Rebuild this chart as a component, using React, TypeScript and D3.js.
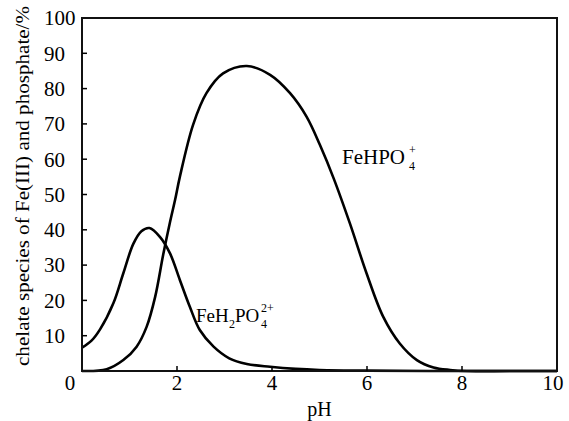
import React from "react";
import * as d3 from "d3";

// FeH2PO4(2+) species curve
const ph1 = [0, 0.2, 0.38, 0.66, 0.87, 1.08, 1.25, 1.42, 1.64, 1.85, 2.06, 2.27, 2.48, 2.77, 3.1, 3.47, 3.96, 4.5, 5, 6, 8, 10];
const val1 = [6.6, 8.6, 11.8, 19.2, 27.7, 36.0, 39.6, 40.5, 38, 33.4, 25.8, 18.2, 11.6, 6.9, 3.6, 2.0, 1.2, 0.6, 0.3, 0.1, 0, 0];

// FeHPO4(+) species curve
const ph2 = [0, 0.52, 0.87, 1.15, 1.36, 1.54, 1.71, 1.85, 1.96, 2.06, 2.34, 2.62, 2.97, 3.47, 3.96, 4.38, 4.73, 5.01, 5.3, 5.64, 5.99, 6.34, 6.69, 7.05, 7.4, 7.75, 8.1, 9, 10];
const val2 = [0, 0.5, 3.1, 6.9, 12.5, 21, 33, 42, 48.5, 55, 69.8, 78.7, 84.3, 86.4, 83.9, 78.7, 72, 64, 54.5, 41.8, 27.7, 15.4, 7.8, 3.1, 1.0, 0.3, 0, 0, 0];

const xTicks = [2, 4, 6, 8, 10];
const yTicks = [10, 20, 30, 40, 50, 60, 70, 80, 90, 100];

const W = 569;
const H = 421;
const margin = { top: 18, right: 12, bottom: 50, left: 82 };
const font = "'Liberation Serif', 'Times New Roman', serif";

export default function App() {
  const x = d3.scaleLinear().domain([0, 10]).range([margin.left, W - margin.right]);
  const y = d3.scaleLinear().domain([0, 100]).range([H - margin.bottom, margin.top]);

  const line = d3
    .line<[number, number]>()
    .x((d) => x(d[0]))
    .y((d) => Math.min(y(d[1]), y(0)))
    .curve(d3.curveCatmullRom.alpha(0.5));

  const s1 = ph1.map((p, i) => [p, val1[i]] as [number, number]);
  const s2 = ph2.map((p, i) => [p, val2[i]] as [number, number]);

  const x0 = x(0), x1 = x(10), y0 = y(0), y1 = y(100);

  return (
    <svg width={W} height={H} style={{ position: "absolute", left: 0, top: 0, background: "#fff" }} fontFamily={font}>
      {/* curves */}
      <path d={line(s1) || ""} fill="none" stroke="#000" strokeWidth={2.6} />
      <path d={line(s2) || ""} fill="none" stroke="#000" strokeWidth={2.6} />

      {/* frame */}
      <rect x={x0} y={y1} width={x1 - x0} height={y0 - y1} fill="none" stroke="#111" strokeWidth={2} />

      {/* x ticks */}
      {xTicks.map((t) => (
        <g key={"x" + t}>
          {t < 10 && <line x1={x(t)} x2={x(t)} y1={y0} y2={y0 - 5} stroke="#000" strokeWidth={1.5} />}
          <text x={x(t) - (t === 10 ? 4 : 0)} y={390} textAnchor="middle" fontSize={21}>{t}</text>
        </g>
      ))}
      <text x={70} y={390} textAnchor="middle" fontSize={21}>0</text>

      {/* y ticks */}
      {yTicks.map((t) => (
        <g key={"y" + t}>
          {t < 100 && <line x1={x0} x2={x0 + 5} y1={y(t)} y2={y(t)} stroke="#000" strokeWidth={1.5} />}
          <text x={44} y={y(t)} dy="0.35em" textAnchor="start" fontSize={21}>{t}</text>
        </g>
      ))}

      {/* axis titles */}
      <text x={(x0 + x1) / 2} y={416} textAnchor="middle" fontSize={20}>pH</text>
      <text
        transform={`translate(28.5,186) rotate(-90)`}
        textAnchor="middle"
        fontSize={19}
        textLength={360}
        lengthAdjust="spacingAndGlyphs"
      >
        chelate species of Fe(III) and phosphate/%
      </text>

      {/* annotations */}
      <text fontSize={21}>
        <tspan x={342} y={164}>FeHPO</tspan>
      </text>
      <text fontSize={12}>
        <tspan x={409} y={170}>4</tspan>
        <tspan x={409} y={154}>+</tspan>
      </text>

      <text fontSize={19}>
        <tspan x={196} y={322}>FeH</tspan>
        <tspan x={235} y={322}>PO</tspan>
      </text>
      <text fontSize={12}>
        <tspan x={229} y={328}>2</tspan>
        <tspan x={261} y={328}>4</tspan>
        <tspan x={261} y={312}>2+</tspan>
      </text>
    </svg>
  );
}
